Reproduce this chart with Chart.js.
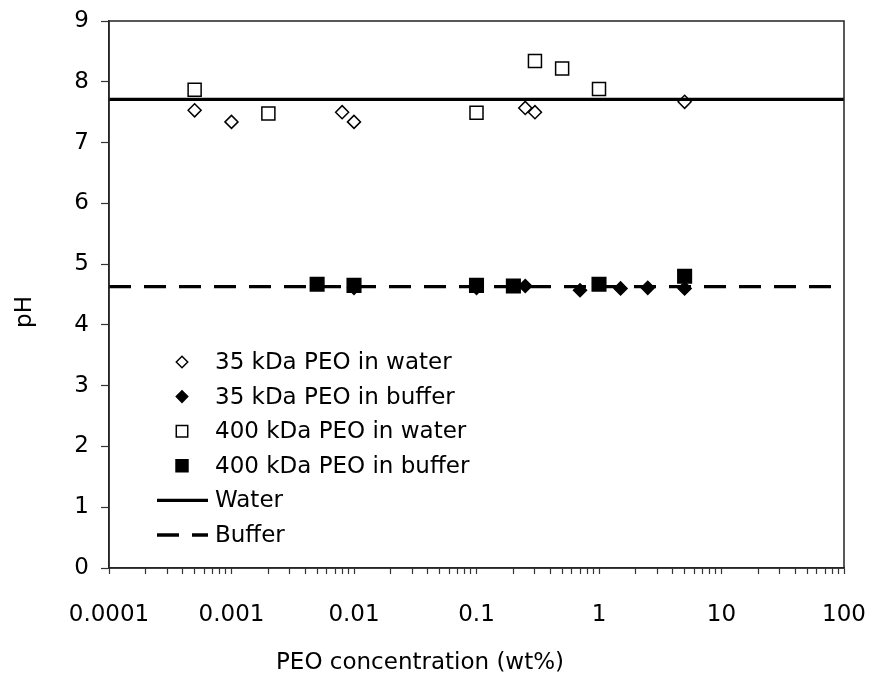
<!DOCTYPE html>
<html>
<head>
<meta charset="utf-8">
<script src="https://cdn.jsdelivr.net/npm/chart.js@4/dist/chart.umd.min.js"></script>
<style>
  body { margin: 0; background: #fff; }
  canvas { display: block; }
</style>
</head>
<body>
<canvas id="phChart" width="871" height="676"></canvas>
<script>
// Values
const xTickLabels = ["0.0001", "0.001", "0.01", "0.1", "1", "10", "100"];

const peo35WaterX = [0.0005, 0.001, 0.008, 0.01, 0.25, 0.3, 5];
const peo35WaterY = [7.53, 7.34, 7.50, 7.34, 7.57, 7.50, 7.67];

const peo35BufferX = [0.01, 0.1, 0.25, 0.7, 1.5, 2.5, 5];
const peo35BufferY = [4.61, 4.61, 4.64, 4.57, 4.60, 4.61, 4.60];

const peo400WaterX = [0.0005, 0.002, 0.1, 0.3, 0.5, 1];
const peo400WaterY = [7.87, 7.48, 7.49, 8.34, 8.22, 7.88];

const peo400BufferX = [0.005, 0.01, 0.1, 0.2, 1, 5];
const peo400BufferY = [4.67, 4.65, 4.65, 4.64, 4.67, 4.80];

const lineRangeX = [0.0001, 100];
const waterPH = [7.71, 7.71];
const bufferPH = [4.63, 4.63];

const FONT = '"DejaVu Sans", sans-serif';

function toPoints(xs, ys) {
    return xs.map((x, i) => ({ x: x, y: ys[i] }));
}

// all log ticks: 1..9 in every decade, labels only on powers of ten
const majorValues = xTickLabels.map(Number);
const allTicks = [];
for (let k = 0; k < majorValues.length - 1; k++) {
    for (let m = 1; m < 10; m++) {
        allTicks.push(Number((m * majorValues[k]).toPrecision(3)));
    }
}
allTicks.push(majorValues[majorValues.length - 1]);

const markerSets = [
    { label: "35 kDa PEO in water", style: "rectRot", radius: 6.5, fill: "#fff" },
    { label: "35 kDa PEO in buffer", style: "rectRot", radius: 6.5, fill: "#000" },
    { label: "400 kDa PEO in water", style: "rect", radius: 9.2, fill: "#fff" },
    { label: "400 kDa PEO in buffer", style: "rect", radius: 9.6, fill: "#000" },
];

// frame, axis titles and the inside legend
const extras = {
    id: "extras",
    afterDraw(chart) {
        const ctx = chart.ctx;
        const a = chart.chartArea;
        ctx.save();
        ctx.strokeStyle = "#222";
        ctx.lineWidth = 1.5;
        ctx.strokeRect(a.left, a.top, a.right - a.left, a.bottom - a.top);

        ctx.fillStyle = "#000";
        ctx.font = "23px " + FONT;
        ctx.textBaseline = "middle";
        ctx.textAlign = "center";
        ctx.fillText("PEO concentration (wt%)", 420, 663);

        ctx.save();
        ctx.translate(25, 312);
        ctx.rotate(-Math.PI / 2);
        ctx.fillText("pH", 0, 0);
        ctx.restore();

        // legend
        const lx = a.left + 73;
        const tx = a.left + 106;
        let ly = 362;
        const step = 34.6;
        ctx.textAlign = "left";
        markerSets.forEach(m => {
            ctx.fillStyle = m.fill;
            ctx.strokeStyle = "#000";
            ctx.lineWidth = 1.5;
            Chart.helpers.drawPoint(ctx, {
                pointStyle: m.style,
                radius: m.radius * 0.88,
                rotation: 0,
                borderWidth: 1.5
            }, lx, ly);
            ctx.fillStyle = "#000";
            ctx.fillText(m.label, tx, ly + 1);
            ly += step;
        });
        [["Water", []], ["Buffer", [22, 13]]].forEach(l => {
            ctx.strokeStyle = "#000";
            ctx.lineWidth = 3.3;
            ctx.setLineDash(l[1]);
            ctx.beginPath();
            ctx.moveTo(a.left + 48, ly);
            ctx.lineTo(a.left + 99, ly);
            ctx.stroke();
            ctx.setLineDash([]);
            ctx.fillStyle = "#000";
            ctx.fillText(l[0], tx, ly + 1);
            ly += step;
        });
        ctx.restore();
    }
};

function scatterSet(m, xs, ys) {
    return {
        type: "scatter",
        label: m.label,
        data: toPoints(xs, ys),
        pointStyle: m.style,
        pointRadius: m.radius,
        pointHoverRadius: m.radius,
        pointBackgroundColor: m.fill,
        pointBorderColor: "#000",
        pointBorderWidth: 1.5,
        showLine: false,
        order: 1
    };
}

const ctx = document.getElementById("phChart").getContext("2d");
new Chart(ctx, {
    type: "scatter",
    data: {
        datasets: [
            scatterSet(markerSets[0], peo35WaterX, peo35WaterY),
            scatterSet(markerSets[1], peo35BufferX, peo35BufferY),
            scatterSet(markerSets[2], peo400WaterX, peo400WaterY),
            scatterSet(markerSets[3], peo400BufferX, peo400BufferY),
            {
                type: "line",
                label: "Water",
                data: toPoints(lineRangeX, waterPH),
                borderColor: "#000",
                borderWidth: 3.3,
                pointRadius: 0,
                fill: false,
                order: 0
            },
            {
                type: "line",
                label: "Buffer",
                data: toPoints(lineRangeX, bufferPH),
                borderColor: "#000",
                borderWidth: 3.3,
                borderDash: [22, 13],
                pointRadius: 0,
                fill: false,
                order: 0
            }
        ]
    },
    options: {
        responsive: false,
        animation: false,
        layout: { padding: { left: 69, right: 27, top: 21, bottom: 48 } },
        plugins: {
            legend: { display: false },
            tooltip: { enabled: false }
        },
        scales: {
            x: {
                type: "logarithmic",
                min: 0.0001,
                max: 100,
                afterBuildTicks: scale => {
                    scale.ticks = allTicks.map(v => ({ value: v }));
                },
                afterFit: scale => {
                    scale.height = 60;
                    scale.paddingLeft = 0;
                    scale.paddingRight = 0;
                },
                ticks: {
                    autoSkip: false,
                    maxRotation: 0,
                    padding: 27,
                    color: "#000",
                    font: { family: FONT, size: 23 },
                    callback: value => {
                        const i = majorValues.indexOf(value);
                        return i >= 0 ? xTickLabels[i] : "";
                    }
                },
                grid: {
                    drawOnChartArea: false,
                    tickLength: 6,
                    tickColor: "#333",
                    tickWidth: 1.2
                },
                border: { color: "#333", width: 1.5 }
            },
            y: {
                min: 0,
                max: 9,
                afterFit: scale => {
                    scale.width = 40;
                    scale.paddingTop = 0;
                    scale.paddingBottom = 0;
                },
                ticks: {
                    stepSize: 1,
                    padding: 12,
                    color: "#000",
                    font: { family: FONT, size: 23 }
                },
                grid: {
                    drawOnChartArea: false,
                    tickLength: 8,
                    tickColor: "#333",
                    tickWidth: 1.2
                },
                border: { color: "#333", width: 1.5 }
            }
        }
    },
    plugins: [extras]
});
</script>
</body>
</html>
